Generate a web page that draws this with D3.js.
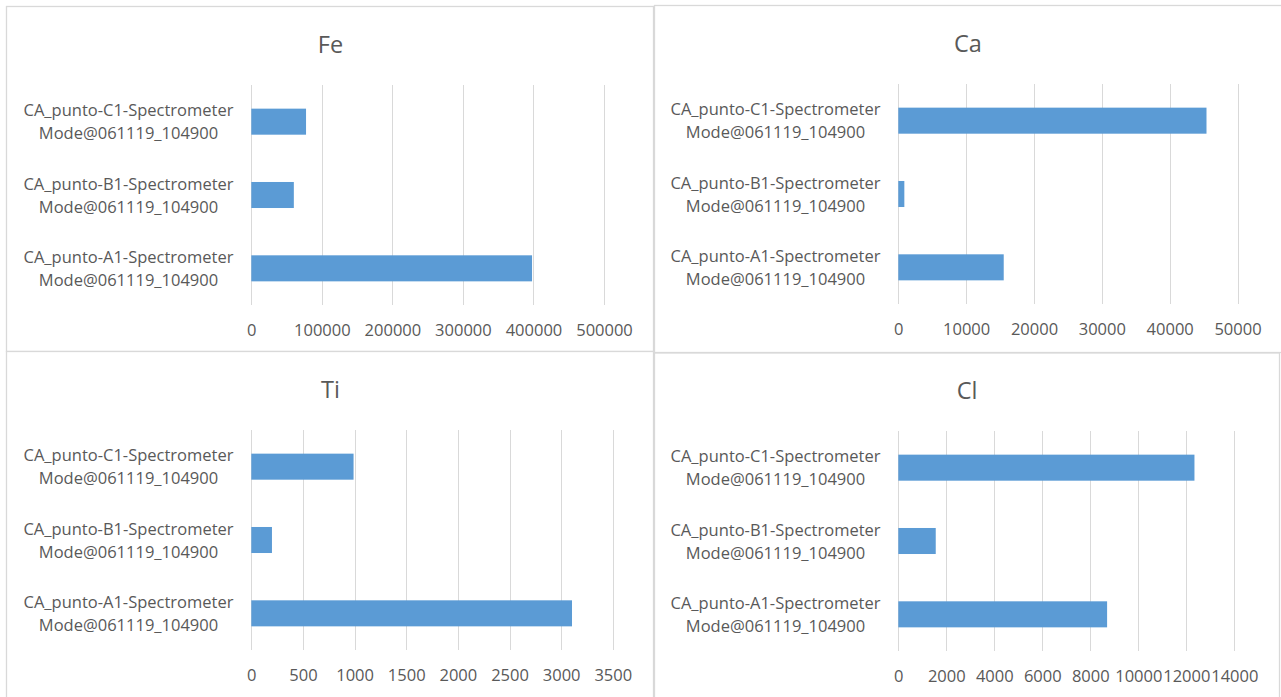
<!DOCTYPE html>
<html>
<head>
<meta charset="utf-8">
<script src="https://cdn.jsdelivr.net/npm/d3@7"></script>
<style>
  html, body { margin: 0; padding: 0; background: #ffffff; }
  svg { display: block; }
  text { font-family: "Open Sans", "Liberation Sans", sans-serif; fill: #595959; }
</style>
</head>
<body>
<svg id="chart" width="1281" height="697"></svg>
<script>
// Measurement points (bottom to top in every chart)
const categories = [
  "CA_punto-A1-Spectrometer Mode@061119_104900",
  "CA_punto-B1-Spectrometer Mode@061119_104900",
  "CA_punto-C1-Spectrometer Mode@061119_104900"
];

// Intensity per element, same order as categories
const feValues = [398000, 60300, 77600];
const caValues = [15540, 890, 45430];
const tiValues = [3105, 200, 990];
const clValues = [8700, 1560, 12340];

// Value-axis ticks per element
const feTicks = [0, 100000, 200000, 300000, 400000, 500000];
const caTicks = [0, 10000, 20000, 30000, 40000, 50000];
const tiTicks = [0, 500, 1000, 1500, 2000, 2500, 3000, 3500];
const clTicks = [0, 2000, 4000, 6000, 8000, 10000, 12000, 14000];

// Chart frames: outer box, title centre and plot area
const panels = [
  { title: "Fe", values: feValues, ticks: feTicks,
    box: [6.5, 6.5, 653.5, 351.5], left: 7, top: 7, titleX: 330.5, plotL: 251.3, plotR: 604 },
  { title: "Ca", values: caValues, ticks: caTicks,
    box: [654.5, 5.5, 1300, 352.5], left: 654, top: 6, titleX: 968, plotL: 898.3, plotR: 1237.5 },
  { title: "Ti", values: tiValues, ticks: tiTicks,
    box: [6.5, 351.5, 653.5, 720], left: 7, top: 352, titleX: 330.5, plotL: 251.3, plotR: 612.8 },
  { title: "Cl", values: clValues, ticks: clTicks,
    box: [654.5, 353, 1279.5, 720], left: 654, top: 353, titleX: 967, plotL: 898.3, plotR: 1234.3 }
];

const svg = d3.select("#chart");
const barColor = "#5B9BD5";
const gridColor = "#D9D9D9";

panels.forEach(p => {
  const g = svg.append("g");
  const [bx0, by0, bx1, by1] = p.box;

  // chart frame
  g.append("rect")
    .attr("x", bx0).attr("y", by0)
    .attr("width", bx1 - bx0).attr("height", by1 - by0)
    .attr("fill", "#ffffff")
    .attr("stroke", gridColor)
    .attr("stroke-width", 1.3);

  const plotTop = p.top + 78;
  const plotBottom = plotTop + 220;

  // title
  g.append("text")
    .attr("x", p.titleX)
    .attr("y", p.top + 46)
    .attr("text-anchor", "middle")
    .style("font-size", "23.5px")
    .text(p.title);

  const x = d3.scaleLinear()
    .domain([0, p.ticks[p.ticks.length - 1]])
    .range([p.plotL, p.plotR]);

  const y = d3.scaleBand()
    .domain(categories.slice().reverse())
    .range([plotTop, plotBottom])
    .paddingInner(0.645)
    .paddingOuter(0.3225);

  // vertical gridlines
  g.append("g")
    .selectAll("line")
    .data(p.ticks)
    .join("line")
    .attr("x1", d => Math.round(x(d)) + 0.5)
    .attr("x2", d => Math.round(x(d)) + 0.5)
    .attr("y1", plotTop)
    .attr("y2", plotBottom)
    .attr("stroke", gridColor)
    .attr("stroke-width", 1);

  // value axis labels
  const axis = d3.axisBottom(x)
    .tickValues(p.ticks)
    .tickFormat(d3.format("d"))
    .tickSize(0)
    .tickPadding(0);
  const ax = g.append("g")
    .attr("transform", `translate(0,${plotBottom + 31})`)
    .call(axis);
  ax.select(".domain").remove();
  ax.selectAll("text")
    .attr("dy", 0)
    .style("font-size", "16.5px")
    .attr("fill", "#595959");

  // bars
  g.append("g")
    .selectAll("rect")
    .data(categories.map((c, i) => ({ c, v: p.values[i] })))
    .join("rect")
    .attr("x", x(0))
    .attr("y", d => y(d.c))
    .attr("width", d => x(d.v) - x(0))
    .attr("height", y.bandwidth())
    .attr("fill", barColor);

  // category labels, two lines each
  const labels = g.append("g")
    .selectAll("text")
    .data(categories)
    .join("text")
    .attr("text-anchor", "middle")
    .style("font-size", "16.5px");
  labels.each(function (c) {
    const parts = c.split(" ");
    const cy = y(c) + y.bandwidth() / 2;
    const t = d3.select(this);
    t.append("tspan").attr("x", p.left + 121.5).attr("y", cy - 5.5).text(parts[0]);
    t.append("tspan").attr("x", p.left + 121.5).attr("y", cy + 17.5).text(parts[1]);
  });
});
</script>
</body>
</html>
